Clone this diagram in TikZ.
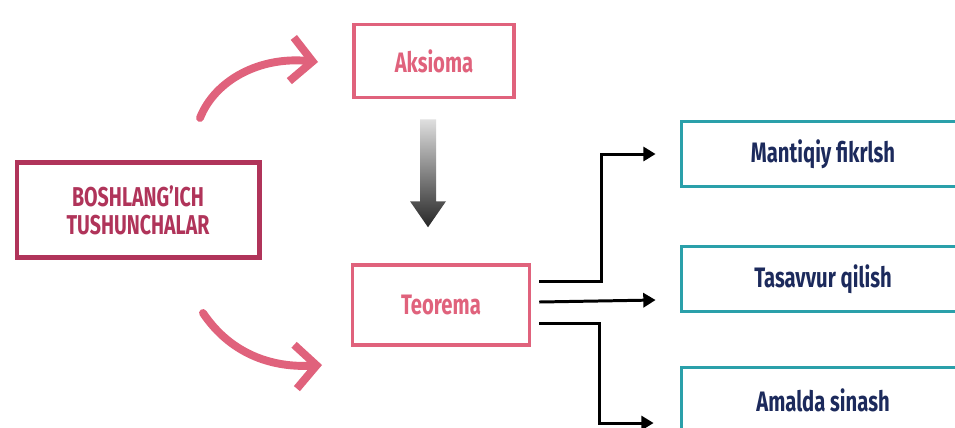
\documentclass[tikz,border=0pt]{standalone}
\usepackage{fontspec}
\setmainfont{Fira Sans}[FakeStretch=0.72]
\usetikzlibrary{arrows.meta}

\definecolor{bordo}{RGB}{176,52,90}
\definecolor{pushti}{RGB}{224,98,124}
\definecolor{firuza}{RGB}{42,160,170}
\definecolor{tunkok}{RGB}{28,42,92}

\tikzset{
  quti/.style={draw, line width=2pt, align=center, inner sep=0pt},
  egri/.style={pushti, line width=4.5pt, line cap=round,
    -{Straight Barb[length=12pt,width=25pt]}},
  kon/.style={line width=1.7pt, -{Triangle[length=7pt,width=8pt]}}
}

\begin{document}
\begin{tikzpicture}[x=0.02cm,y=-0.02cm]
\useasboundingbox (0,0) rectangle (955,427);
\clip (0,0) rectangle (955,427);
\fill[white] (0,0) rectangle (955,427);

% chap tomon
\node[quti, draw=bordo, text=bordo, line width=2.3pt,
      minimum width=4.86cm, minimum height=1.9cm,
      font=\bfseries\fontsize{15.5}{16}\selectfont] (boshl) at (138,210)
      {BOSHLANG’ICH\\TUSHUNCHALAR};

% markaz
\node[quti, draw=pushti, text=pushti, minimum width=3.2cm, minimum height=1.46cm,
      font=\bfseries\fontsize{16}{18}\selectfont] (aksioma) at (434,61) {Aksioma};
\node[quti, draw=pushti, text=pushti, minimum width=3.54cm, minimum height=1.6cm,
      font=\bfseries\fontsize{16}{18}\selectfont] (teorema) at (441,305) {Teorema};

% o'ng tomon
\foreach \nom/\matn/\y in {mantiqiy/Mantiqiy fikrlsh/154,
                          tasavvur/Tasavvur qilish/279,
                          amalda/Amalda sinash/400} {
    \node[quti, draw=firuza, text=tunkok, line width=2.2pt,
          minimum width=5.66cm, minimum height=1.3cm,
          font=\bfseries\fontsize{16}{18}\selectfont] (\nom) at (823,\y) {\matn};
}

% egri strelkalar
\coordinate (e1a) at (200,118);
\coordinate (e1b) at (318,62);
\coordinate (e2a) at (203,313);
\coordinate (e2b) at (322,365);
\draw[egri] (e1a) .. controls (215,80) and (260,56) .. (e1b);
\draw[egri] (e2a) .. controls (232,356) and (275,368) .. (e2b);

% kulrang strelka
\begin{scope}[shift={(aksioma.south)}]
\shade[top color=gray!25, bottom color=black!85]
  (-14,20) -- (2,20) -- (2,102) -- (12,102) -- (-6,128) -- (-24,102) -- (-14,102) -- cycle;
\end{scope}

% qora strelkalar
\draw[kon] ([shift={(8,-24)}]teorema.east) -- ++(62,0) |- ([shift={(-24,0)}]mantiqiy.west);
\draw[kon] ([shift={(8,-3)}]teorema.east) -- ([shift={(-24,21)}]tasavvur.west);
\draw[kon] ([shift={(8,18)}]teorema.east) -- ++(60,0) |- ([shift={(-26,23)}]amalda.west);
\end{tikzpicture}
\end{document}
